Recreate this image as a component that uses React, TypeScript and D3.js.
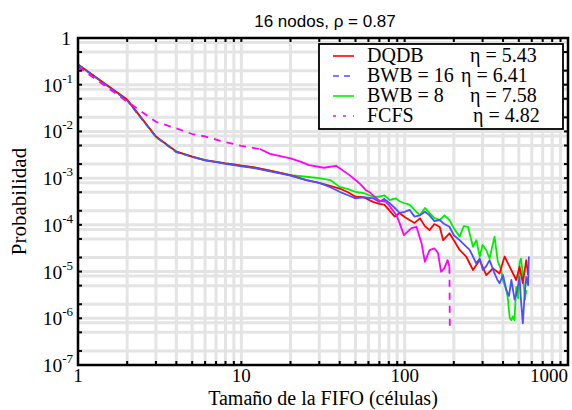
import React from 'react';
import * as d3 from 'd3';

type Pt = [number, number];

// DQDB (red)
const dqdb: Pt[] = [
  [1, 0.27], [2, 0.048], [3, 0.0078], [4, 0.0037], [5, 0.0029], [6, 0.00244], [7, 0.00223],
  [8, 0.00207], [9, 0.00196], [10, 0.00186], [12, 0.00169], [15, 0.00144], [20, 0.00116],
  [25, 0.00091], [30, 0.00079], [35, 0.00068], [40, 0.0006], [45, 0.0005], [50, 0.0004],
  [56, 0.00039], [64, 0.00031], [70, 0.00028], [75, 0.00027], [81, 0.0002], [87, 0.00015],
  [93, 0.00018], [100, 0.000147], [107, 0.000127], [115, 0.00011], [124, 0.000138],
  [133, 0.000094], [142, 0.000077], [152, 0.000104], [164, 0.00009], [172, 0.000047],
  [188, 0.000066], [200, 0.000047], [217, 0.000029], [238, 0.000021], [262, 0.0000108],
  [288, 0.0000176], [316, 0.0000084], [347, 0.0000117], [381, 0.0000091], [409, 0.000021],
  [439, 0.0000127], [482, 0.0000066], [505, 0.0000127], [529, 0.0000057], [555, 0.0000176],
  [570, 0.0000084],
];

// BWB = 16 (blue, dashed)
const bwb16: Pt[] = [
  [1, 0.27], [2, 0.046], [3, 0.0076], [4, 0.0036], [5, 0.00285], [6, 0.0024], [7, 0.0022],
  [8, 0.00203], [9, 0.0019], [10, 0.00178], [12, 0.00163], [15, 0.0014], [20, 0.00113],
  [25, 0.00091], [30, 0.00079], [35, 0.00064], [40, 0.00051], [45, 0.00043], [50, 0.00037],
  [56, 0.00039], [64, 0.00037], [70, 0.00031], [75, 0.00036], [81, 0.00029], [87, 0.00023],
  [93, 0.00018], [100, 0.00019], [107, 0.00021], [115, 0.00015], [124, 0.00016],
  [133, 0.00019], [142, 0.00016], [152, 0.00012], [164, 0.000127], [175, 0.000104],
  [188, 0.000091], [200, 0.00006], [217, 0.000047], [233, 0.000037], [250, 0.000029],
  [262, 0.000021], [274, 0.000015], [288, 0.000019], [301, 0.0000108], [316, 0.0000131],
  [331, 0.0000176], [355, 0.0000091], [370, 0.0000066], [381, 0.0000056], [400, 0.0000084],
  [419, 0.000004], [435, 0.000003], [450, 0.0000066], [471, 0.0000025], [490, 0.000004],
  [505, 0.0000077], [515, 0.0000025], [529, 0.00000078], [540, 0.0000025], [555, 0.0000077],
  [570, 0.0000051], [576, 0.000021],
];

// BWB = 8 (green)
const bwb8: Pt[] = [
  [1, 0.27], [2, 0.047], [3, 0.0077], [4, 0.0037], [5, 0.0029], [6, 0.00244], [7, 0.00223],
  [8, 0.00207], [9, 0.00196], [10, 0.00186], [12, 0.00169], [15, 0.00144], [20, 0.00116],
  [25, 0.00107], [30, 0.001], [35, 0.00091], [40, 0.00065], [45, 0.00058], [50, 0.00051],
  [56, 0.00048], [64, 0.0004], [70, 0.0004], [75, 0.00043], [81, 0.00034], [88, 0.00037],
  [93, 0.00032], [100, 0.00029], [107, 0.00027], [115, 0.00021], [124, 0.00016],
  [133, 0.00023], [142, 0.00018], [152, 0.00014], [164, 0.000127], [175, 0.00016],
  [188, 0.000127], [200, 0.000085], [217, 0.000056], [230, 0.000094], [244, 0.000091],
  [262, 0.000034], [275, 0.000047], [288, 0.000021], [300, 0.000037], [316, 0.000029],
  [331, 0.000019], [355, 0.000056], [372, 0.0000162], [390, 0.0000108], [399, 0.0000066],
  [420, 0.000004], [429, 0.0000025], [440, 0.000001], [450, 0.00000091], [460, 0.0000011],
  [470, 0.00000091], [482, 0.0000047], [495, 0.0000027], [505, 0.000015], [515, 0.000019],
  [529, 0.0000091], [545, 0.0000025], [555, 0.000004],
];

// FCFS (magenta, dashed)
const fcfs: Pt[] = [
  [1, 0.243], [2, 0.0433], [3, 0.0161], [4, 0.01165], [5, 0.0088], [6, 0.0078], [7, 0.0067],
  [8, 0.0059], [9, 0.0054], [10, 0.0049], [12, 0.0044], [13, 0.0042], [15, 0.0033],
  [20, 0.00265], [23, 0.00225], [26, 0.0019], [32, 0.00167], [38, 0.00184], [40, 0.00163],
  [46, 0.00116], [53, 0.00077], [58, 0.00055], [61, 0.0005], [67, 0.00037], [70, 0.00033],
  [77, 0.00031], [81, 0.00025], [89, 0.000162], [93, 0.00011], [99, 0.00006], [110, 0.000085],
  [118, 0.000091], [127, 0.00004], [130, 0.000025], [133, 0.0000162], [142, 0.0000288],
  [152, 0.0000314], [160, 0.0000249], [167, 0.0000099], [175, 0.0000119], [183, 0.0000176],
  [188, 0.0000127], [189, 0.00000056],
];

const seriesNames = ['DQDB', 'BWB = 16', 'BWB = 8', 'FCFS'];
const etaLabels = ['η = 5.43', 'η = 6.41', 'η = 7.58', 'η = 4.82'];
const xTickValues = [1, 10, 100, 1000];
const yTickExps = [0, -1, -2, -3, -4, -5, -6, -7];

const W = 572;
const H = 410;
const m = { left: 78, right: 568, top: 38, bottom: 365 };

const serif = '"Liberation Serif", "Times New Roman", serif';
const sans = '"Liberation Sans", Arial, sans-serif';

export default function App() {
  const x = d3.scaleLog().domain([1, 1000]).range([m.left, m.right]);
  const y = d3.scaleLog().domain([1e-7, 1]).range([m.bottom, m.top]);
  const line = d3.line<Pt>().x(d => x(d[0])).y(d => y(d[1]));

  // grid values
  const xGrid: number[] = [];
  for (let k = 0; k < 3; k++) for (let i = 1; i <= 9; i++) xGrid.push(i * 10 ** k);
  const yGrid: number[] = [];
  const yTicks: number[] = [];
  for (let e = -7; e <= -1; e++) {
    [2, 5, 8].forEach(v => yGrid.push(v * 10 ** e));
    [2, 5].forEach(v => yTicks.push(v * 10 ** e));
    if (e > -7) { yGrid.push(10 ** e); }
    yTicks.push(10 ** e);
  }

  const series = [
    { data: bwb8, color: '#00ee00', dashBelow: 0, dashLast: false, dash: '' },
    { data: dqdb, color: '#ff0000', dashBelow: 0, dashLast: false, dash: '' },
    { data: bwb16, color: '#4f4fff', dashBelow: 5, dashLast: false, dash: '6,4' },
    { data: fcfs, color: '#ff00ff', dashBelow: 13, dashLast: true, dash: '7,6' },
  ];

  const legendColors = ['#ff0000', '#4f4fff', '#00ee00', '#ff00ff'];
  const legendDash = ['', '6,5', '', '3,7'];
  const etaX = [470, 461, 470, 473];

  return (
    <svg width={W} height={H} style={{ position: 'absolute', left: 0, top: 0, background: '#fff' }}>
      {/* grid */}
      <g stroke="#e4e4e4" strokeWidth={3}>
        {xGrid.filter(v => v > 1).map(v => (
          <line key={'gx' + v} x1={x(v)} x2={x(v)} y1={m.top} y2={m.bottom} />
        ))}
        {yGrid.map(v => (
          <line key={'gy' + v} x1={m.left} x2={m.right} y1={y(v)} y2={y(v)} />
        ))}
      </g>

      {/* series */}
      <g fill="none" strokeWidth={1.8} strokeLinejoin="round">
        {series.map((s, i) => {
          const pts = s.data;
          if (!s.dash) {
            return <path key={i} d={line(pts) || ''} stroke={s.color} />;
          }
          const head = pts.filter(p => p[0] <= s.dashBelow);
          let body = pts.filter(p => p[0] >= s.dashBelow);
          const drop = s.dashLast ? pts.slice(-2) : [];
          if (s.dashLast) body = body.slice(0, -1);
          return (
            <g key={i} stroke={s.color}>
              <path d={line(head) || ''} strokeDasharray={s.dash} />
              <path d={line(body) || ''} />
              {drop.length > 0 && <path d={line(drop) || ''} strokeDasharray={s.dash} />}
            </g>
          );
        })}
      </g>

      {/* ticks */}
      <g stroke="#000" strokeWidth={2}>
        {xGrid.map(v => (
          <g key={'tx' + v}>
            <line x1={x(v)} x2={x(v)} y1={m.bottom} y2={m.bottom - 4} />
            <line x1={x(v)} x2={x(v)} y1={m.top} y2={m.top + 4} />
          </g>
        ))}
        {yTicks.map(v => (
          <g key={'ty' + v}>
            <line x1={m.left} x2={m.left + 4} y1={y(v)} y2={y(v)} />
            <line x1={m.right} x2={m.right - 4} y1={y(v)} y2={y(v)} />
          </g>
        ))}
      </g>

      {/* frame */}
      <rect x={m.left} y={m.top} width={m.right - m.left} height={m.bottom - m.top}
        fill="none" stroke="#000" strokeWidth={2.5} />

      {/* x tick labels */}
      <g fontFamily={serif} fontSize={19} fill="#000">
        {xTickValues.map((v, i) => (
          <text key={'lx' + v} x={x(v)} y={382}
            textAnchor={i === xTickValues.length - 1 ? 'end' : 'middle'}>
            {String(v)}
          </text>
        ))}
      </g>

      {/* y tick labels */}
      <g fontFamily={serif} fontSize={19.5} fill="#000">
        {yTickExps.map(e => (
          e === 0 ? (
            <text key={'ly' + e} x={71} y={y(1) + 7} textAnchor="end">1</text>
          ) : (
            <text key={'ly' + e} x={73} y={y(10 ** e) + 7} textAnchor="end">
              <tspan>10</tspan>
              <tspan fontSize={13} dy={-9}>{String(e)}</tspan>
            </text>
          )
        ))}
      </g>

      {/* axis titles */}
      <text x={(m.left + m.right) / 2} y={405} textAnchor="middle" fontFamily={serif} fontSize={20}>
        Tamaño de la FIFO (células)
      </text>
      <text transform={`translate(26,${(m.top + m.bottom) / 2}) rotate(-90)`} textAnchor="middle"
        fontFamily={serif} fontSize={21}>
        Probabilidad
      </text>

      {/* title */}
      <text x={(m.left + m.right) / 2 + 2} y={27} textAnchor="middle" fontFamily={sans} fontSize={17}>
        16 nodos, ρ = 0.87
      </text>

      {/* legend */}
      <g>
        <rect x={319} y={44} width={244} height={85} fill="#fff" stroke="#000" strokeWidth={1.8} />
        {seriesNames.map((name, i) => {
          const base = 62 + i * 20;
          return (
            <g key={name}>
              <line x1={333} x2={354} y1={base - 6} y2={base - 6} stroke={legendColors[i]}
                strokeWidth={1.6} strokeDasharray={legendDash[i] || undefined} />
              <text x={367} y={base} fontFamily={serif} fontSize={20}>{name}</text>
              <text x={etaX[i]} y={base} fontFamily={serif} fontSize={20}>{etaLabels[i]}</text>
            </g>
          );
        })}
      </g>
    </svg>
  );
}
